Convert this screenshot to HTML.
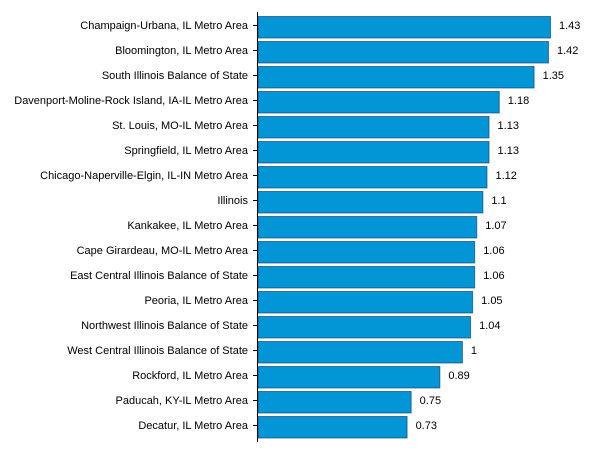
<!DOCTYPE html>
<html><head><meta charset="utf-8"><style>
body{margin:0;background:#fff;}
</style></head><body>
<svg width="600" height="460" xmlns="http://www.w3.org/2000/svg" font-family="Liberation Sans, sans-serif" font-size="11" fill="#000">
<g id="g"></g>
<line x1="257.5" y1="12" x2="257.5" y2="442" stroke="#000" stroke-width="1"/>
</svg>
<script>
var d=[["Champaign-Urbana, IL Metro Area",1.43],["Bloomington, IL Metro Area",1.42],["South Illinois Balance of State",1.35],["Davenport-Moline-Rock Island, IA-IL Metro Area",1.18],["St. Louis, MO-IL Metro Area",1.13],["Springfield, IL Metro Area",1.13],["Chicago-Naperville-Elgin, IL-IN Metro Area",1.12],["Illinois",1.1],["Kankakee, IL Metro Area",1.07],["Cape Girardeau, MO-IL Metro Area",1.06],["East Central Illinois Balance of State",1.06],["Peoria, IL Metro Area",1.05],["Northwest Illinois Balance of State",1.04],["West Central Illinois Balance of State",1],["Rockford, IL Metro Area",0.89],["Paducah, KY-IL Metro Area",0.75],["Decatur, IL Metro Area",0.73]];
var s="";var k=204.9;
d.forEach(function(r,i){var y=16+i*25;var w=r[1]*k;var c=y+11;
s+='<rect x="258" y="'+(y+0.5)+'" width="'+(w-0.5)+'" height="21.5" fill="#0396d6" stroke="#036" stroke-opacity="0.6" stroke-width="1"/>';
s+='<line x1="253" y1="'+(c-1.5)+'" x2="257" y2="'+(c-1.5)+'" stroke="#000"/>';
s+='<text x="248" y="'+(c+2)+'" text-anchor="end">'+r[0]+'</text>';
s+='<text x="'+(258+w+8)+'" y="'+(c+2)+'">'+r[1]+'</text>';});
document.getElementById("g").innerHTML=s;
</script>
</body></html>
